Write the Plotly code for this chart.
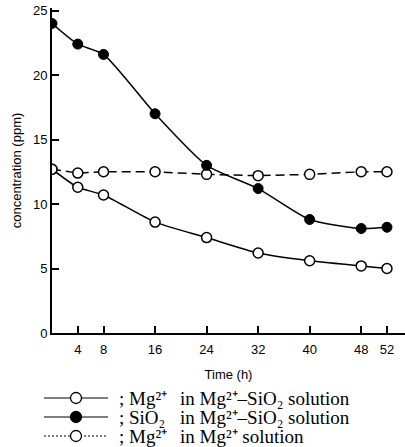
import plotly.graph_objects as go

time_h = [0, 4, 8, 16, 24, 32, 40, 48, 52]
mg_mix = [12.7, 11.3, 10.7, 8.6, 7.4, 6.2, 5.6, 5.2, 5.0]
sio2_mix = [24.0, 22.4, 21.6, 17.0, 13.0, 11.2, 8.8, 8.1, 8.2]
mg_only = [12.7, 12.4, 12.5, 12.5, 12.3, 12.2, 12.3, 12.5, 12.5]

x_ticks = [4, 8, 16, 24, 32, 40, 48, 52]
y_ticks = [0, 5, 10, 15, 20, 25]

legend_heads = ["; Mg\u00b2\u207a", "; SiO\u2082", "; Mg\u00b2\u207a"]
legend_tails = [
    "in Mg\u00b2\u207a\u2013SiO\u2082 solution",
    "in Mg\u00b2\u207a\u2013SiO\u2082 solution",
    "in Mg\u00b2\u207a solution",
]
legend_filled = [False, True, False]
legend_dash = ["solid", "solid", "2px,2px"]

open_marker = dict(symbol="circle", size=10, color="white", line=dict(color="black", width=1.5))
filled_marker = dict(symbol="circle", size=10, color="black", line=dict(color="black", width=1))

fig = go.Figure()
fig.add_trace(go.Scatter(x=time_h, y=mg_only, mode="lines+markers", showlegend=False,
                         line=dict(color="black", width=1.5, dash="9px,5px"), marker=open_marker))
fig.add_trace(go.Scatter(x=time_h, y=mg_mix, mode="lines+markers", showlegend=False,
                         line=dict(color="black", width=1.5, shape="spline", smoothing=0.6),
                         marker=open_marker))
fig.add_trace(go.Scatter(x=time_h, y=sio2_mix, mode="lines+markers", showlegend=False,
                         line=dict(color="black", width=1.5, shape="spline", smoothing=0.6),
                         marker=filled_marker))

# layout geometry (pixels)
W, H = 405, 447
ML, MR, MT, MB = 52, 0, 8, 114
PW, PH = W - ML - MR, H - MT - MB


def px_x(p):
    return (p - ML) / PW


def px_y(p):
    return (H - MB - p) / PH


legend_font = dict(family="Liberation Serif, Times New Roman, serif", size=19, color="black")
shapes = []
annotations = []
for i in range(len(legend_heads)):
    yy = 398 + 19 * i
    shapes.append(dict(type="line", xref="paper", yref="paper",
                       x0=px_x(44), x1=px_x(108), y0=px_y(yy), y1=px_y(yy),
                       line=dict(color="black", width=1.2, dash=legend_dash[i])))
    shapes.append(dict(type="circle", xref="paper", yref="paper",
                       x0=px_x(70.5), x1=px_x(81.5), y0=px_y(yy - 5.5), y1=px_y(yy + 5.5),
                       fillcolor="black" if legend_filled[i] else "white",
                       line=dict(color="black", width=1.3)))
    annotations.append(dict(xref="paper", yref="paper", x=px_x(117), y=px_y(yy),
                            xanchor="left", yanchor="middle", showarrow=False,
                            text=legend_heads[i], font=legend_font))
    annotations.append(dict(xref="paper", yref="paper", x=px_x(178), y=px_y(yy),
                            xanchor="left", yanchor="middle", showarrow=False,
                            text=legend_tails[i], font=legend_font))

axis_font = dict(family="Liberation Sans Narrow, Arial Narrow, Liberation Sans, sans-serif", size=13, color="black")

fig.update_layout(
    width=W, height=H,
    margin=dict(l=ML, r=MR, t=MT, b=MB),
    plot_bgcolor="white", paper_bgcolor="white",
    showlegend=False,
    shapes=shapes, annotations=annotations,
    xaxis=dict(range=[0, 54.8], tickvals=x_ticks, ticks="inside", ticklen=7, tickwidth=2,
               tickcolor="black", showline=True, linecolor="black", linewidth=2,
               showgrid=False, zeroline=False, tickfont=axis_font, ticklabelstandoff=3,
               title=dict(text="Time (h)", font=axis_font, standoff=14)),
    yaxis=dict(range=[0, 25.2], tickvals=y_ticks, ticks="inside", ticklen=7, tickwidth=2,
               tickcolor="black", showline=True, linecolor="black", linewidth=2,
               showgrid=False, zeroline=False, tickfont=axis_font,
               title=dict(text="concentration (ppm)", font=axis_font, standoff=8)),
)

fig.write_html("out.html")
